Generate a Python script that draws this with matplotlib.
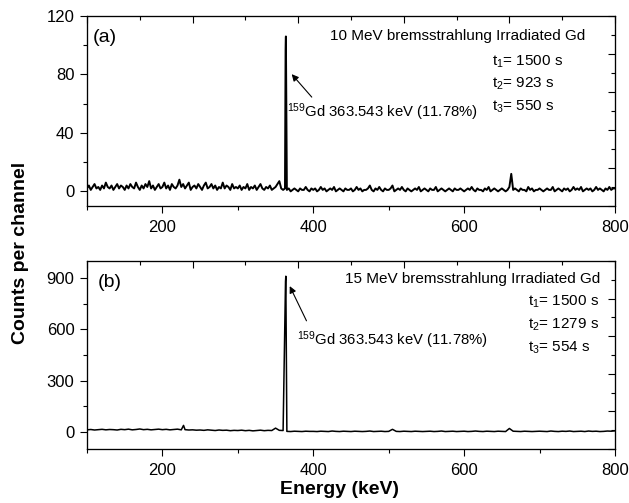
import numpy as np
import matplotlib
matplotlib.use('Agg')
import matplotlib.pyplot as plt
from matplotlib.ticker import MultipleLocator

plt.rcParams['font.family'] = ['Liberation Sans', 'DejaVu Sans']
plt.rcParams['mathtext.default'] = 'regular'

# (a) 10 MeV run: counts on a 2.5 keV grid from 100 to 800 keV
energy_a = np.arange(100, 800.1, 2.5)
counts_a = [
    2, 4, 1, 3, 5, 2, 3, 1, 4, 2, 6, 3, 2, 4, 1, 3, 5, 2, 4, 3,
    1, 4, 2, 5, 3, 2, 6, 3, 1, 4, 2, 5, 3, 7, 2, 4, 1, 3, 5, 2,
    3, 6, 2, 4, 1, 5, 3, 2, 4, 8, 3, 5, 2, 4, 6, 1, 3, 4, 2, 5,
    3, 1, 4, 6, 2, 3, 5, 2, 4, 1, 3, 2, 6, 2, 4, 3, 1, 5, 2, 3,
    2, 4, 1, 3, 2, 5, 1, 3, 2, 4, 1, 3, 5, 2, 1, 3, 2, 4, 1, 2,
    3, 5, 7, 2, 1, 2, 1, 2, 0, 1, 2, 1, 0, 2, 1, 1, 3, 1, 0, 2,
    1, 2, 0, 1, 3, 1, 2, 0, 1, 2, 1, 3, 0, 1, 2, 1, 0, 2, 1, 1,
    2, 0, 1, 3, 1, 2, 0, 1, 1, 2, 4, 1, 0, 2, 1, 3, 1, 0, 2, 1,
    1, 2, 4, 0, 1, 2, 1, 3, 1, 0, 2, 1, 0, 1, 2, 1, 3, 0, 1, 2,
    1, 0, 2, 1, 1, 3, 0, 1, 2, 1, 0, 1, 2, 1, 0, 2, 1, 1, 2, 1,
    0, 1, 2, 1, 3, 1, 0, 2, 1, 1, 0, 2, 1, 3, 0, 1, 2, 1, 0, 1,
    2, 1, 0, 1, 3, 12, 1, 2, 1, 0, 2, 1, 1, 0, 3, 1, 2, 0, 1, 1,
    2, 1, 0, 1, 2, 1, 1, 3, 0, 1, 2, 1, 0, 2, 1, 2, 0, 1, 3, 1,
    2, 1, 3, 0, 1, 2, 1, 2, 0, 1, 3, 1, 2, 1, 0, 2, 1, 3, 1, 2,
    2,
]
peak_e_a = [363.3, 363.7]
peak_c_a = [97, 106]

# (b) 15 MeV run: counts on a 5 keV grid
energy_b = np.arange(100, 800.1, 5)
counts_b = [
    12, 14, 11, 13, 15, 12, 14, 13, 11, 15,
    13, 16, 12, 14, 17, 13, 15, 12, 14, 16,
    13, 15, 12, 14, 16, 12, 13, 11, 12, 10,
    11, 9, 12, 10, 8, 11, 9, 10, 7, 9,
    8, 10, 7, 9, 6, 8, 10, 7, 9, 8,
    22, 9, 8, 3, 2, 4, 3, 2, 4, 3,
    3, 2, 4, 3, 2, 5, 3, 2, 4, 3,
    2, 4, 3, 2, 3, 5, 2, 3, 4, 2,
    3, 15, 3, 2, 4, 3, 2, 4, 3, 2,
    3, 4, 2, 3, 5, 2, 3, 4, 2, 3,
    4, 2, 3, 5, 3, 2, 4, 3, 2, 4,
    3, 2, 20, 4, 3, 2, 4, 3, 2, 3,
    4, 3, 2, 5, 3, 2, 4, 3, 5, 2,
    3, 4, 2, 5, 3, 4, 2, 3, 5, 4,
    6,
]
peak_e_b = [228.0, 363.2, 363.6]
peak_c_b = [38, 880, 911]

panels = [
    dict(e=energy_a, c=counts_a, pe=peak_e_a, pc=peak_c_a, ylim=(-10, 120),
         major=40, minor=20, lw=1.4, tag='(a)', title='10 MeV bremsstrahlung Irradiated Gd',
         times=['t$_1$= 1500 s', 't$_2$= 923 s', 't$_3$= 550 s'],
         head=(371.4, 80.2), tail=(398, 64.5)),
    dict(e=energy_b, c=counts_b, pe=peak_e_b, pc=peak_c_b, ylim=(-100, 1000),
         major=300, minor=150, lw=1.1, tag='(b)', title='15 MeV bremsstrahlung Irradiated Gd',
         times=['t$_1$= 1500 s', 't$_2$= 1279 s', 't$_3$= 554 s'],
         head=(368.8, 853), tail=(391, 650)),
]

# text placement in axes fraction
layout = [
    dict(tag=(0.011, 0.889), title=(0.943, 0.895), tx=0.767, ty=[0.758, 0.642, 0.521],
         lbl=(0.379, 0.495)),
    dict(tag=(0.021, 0.888), title=(0.972, 0.904), tx=0.835, ty=[0.782, 0.660, 0.537],
         lbl=(0.398, 0.580)),
]

fig = plt.figure(figsize=(6.29, 5.03), dpi=100)
rects = [[0.1383, 0.5905, 0.8394, 0.3777], [0.1383, 0.1074, 0.8394, 0.3737]]

for p, lay, r in zip(panels, layout, rects):
    ax = fig.add_axes(r)
    e = np.concatenate([p['e'], p['pe']])
    c = np.concatenate([p['c'], p['pc']])
    order = np.argsort(e)
    ax.plot(e[order], c[order], color='black', lw=p['lw'])
    ax.set_xlim(100, 800)
    ax.set_ylim(*p['ylim'])
    ax.xaxis.set_major_locator(MultipleLocator(200))
    ax.xaxis.set_minor_locator(MultipleLocator(100))
    ax.yaxis.set_major_locator(MultipleLocator(p['major']))
    ax.yaxis.set_minor_locator(MultipleLocator(p['minor']))
    ax.tick_params(which='both', direction='out', labelsize=12, width=0.8)
    ax.tick_params(axis='x', pad=5)
    ax.tick_params(axis='y', pad=4)
    ax.tick_params(which='major', length=5)
    ax.tick_params(which='minor', length=3)
    for s in ax.spines.values():
        s.set_linewidth(0.8)

    # mirrored top/right axes with their own ten divisions
    top = ax.twiny()
    top.set_xlim(0, 10)
    top.xaxis.set_major_locator(MultipleLocator(2))
    top.xaxis.set_minor_locator(MultipleLocator(1))
    top.tick_params(which='both', direction='in', labeltop=False, width=0.8)
    top.tick_params(which='major', length=5)
    top.tick_params(which='minor', length=3)
    right = ax.twinx()
    right.set_ylim(0, 10)
    right.yaxis.set_major_locator(MultipleLocator(2))
    right.yaxis.set_minor_locator(MultipleLocator(1))
    right.tick_params(which='both', direction='in', labelright=False, width=0.8)
    right.tick_params(which='major', length=5)
    right.tick_params(which='minor', length=3)

    ax.text(*lay['tag'], p['tag'], transform=ax.transAxes, fontsize=14,
            ha='left', va='center')
    ax.text(*lay['title'], p['title'], transform=ax.transAxes, fontsize=11,
            ha='right', va='center')
    for t, y in zip(p['times'], lay['ty']):
        ax.text(lay['tx'], y, t, transform=ax.transAxes, fontsize=11,
                ha='left', va='center')
    ax.text(*lay['lbl'], '$^{159}$Gd 363.543 keV (11.78%)', transform=ax.transAxes,
            fontsize=10.7, ha='left', va='center')
    ax.annotate('', xy=p['head'], xytext=p['tail'],
                arrowprops=dict(arrowstyle='-|>', color='black', lw=0.8,
                                mutation_scale=10, shrinkA=0, shrinkB=0))

fig.text(0.032, 0.497, 'Counts per channel', rotation=90, fontsize=14,
         fontweight='bold', ha='center', va='center')
fig.text(0.539, 0.026, 'Energy (keV)', fontsize=14, fontweight='bold',
         ha='center', va='center')

fig.savefig('out.png', dpi=100)
